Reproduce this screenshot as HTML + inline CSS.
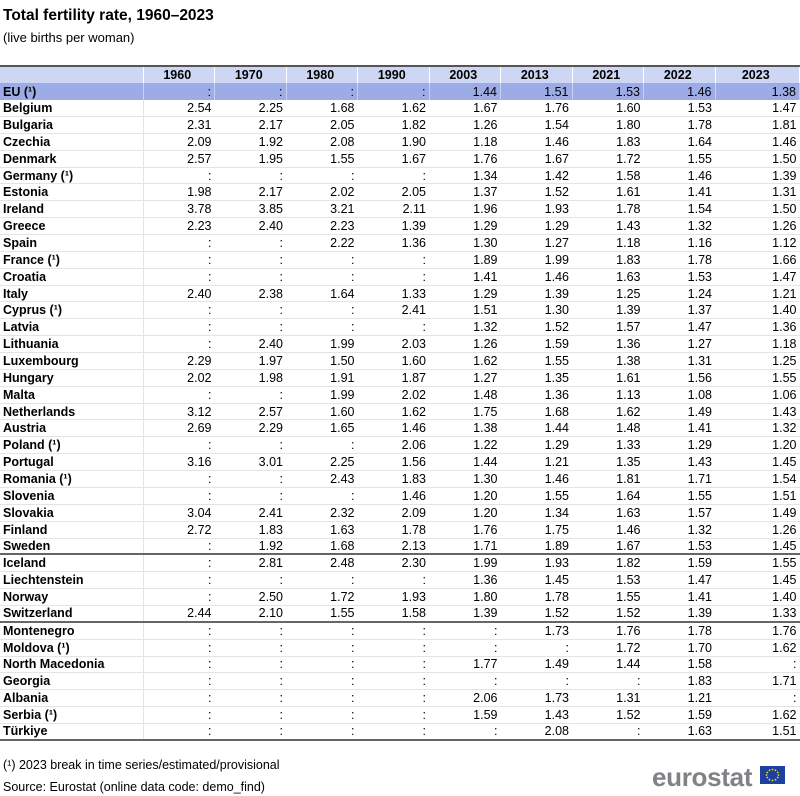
<!DOCTYPE html><html><head><meta charset="utf-8"><style>
body{margin:0;width:800px;height:796px;background:#fff;font-family:"Liberation Sans",Arial,sans-serif;position:relative;overflow:hidden;color:#000}
.t{position:absolute;left:3px;top:7px;font-size:15.5px;font-weight:bold}
.s{position:absolute;left:3px;top:30px;font-size:13px}
table{position:absolute;left:0;top:65px;width:800px;border-collapse:collapse;table-layout:fixed;font-size:12.5px;border-top:2px solid #555}
td{height:15.86px;padding:0 3px 0 0;text-align:right;border-bottom:1px solid #e4e4e4;white-space:nowrap;line-height:14px;overflow:hidden}
td:first-child{text-align:left;font-weight:bold;padding-left:3px;border-right:1px solid #e4e4e4}
tr.h td{background:#cdd7f3;font-weight:bold;text-align:center;border-right:1px solid #fff;border-bottom:none;height:16.3px}
tr.eu td{background:#9dace6;border-right:1px solid #c8d0f0;border-bottom:none;height:16.86px}
tr.b td{border-bottom:2px solid #666;height:14.86px}
.f{position:absolute;left:3px;font-size:12.5px}
.logo{position:absolute;left:652px;top:762px;font-size:26px;color:#808285;font-weight:bold;letter-spacing:-0.3px}
.flag{position:absolute;left:760px;top:766px;width:25px;height:18px;background:#1d3f9f}
</style></head><body>
<div class="t">Total fertility rate, 1960–2023</div>
<div class="s">(live births per woman)</div>
<table>
<colgroup><col style="width:143px"><col style="width:71.5px"><col style="width:71.5px"><col style="width:71.5px"><col style="width:71.5px"><col style="width:71.5px"><col style="width:71.5px"><col style="width:71.5px"><col style="width:71.5px"><col></colgroup>
<tr class="h"><td></td><td>1960</td><td>1970</td><td>1980</td><td>1990</td><td>2003</td><td>2013</td><td>2021</td><td>2022</td><td>2023</td></tr>
<tr class="eu"><td>EU (¹)</td><td>:</td><td>:</td><td>:</td><td>:</td><td>1.44</td><td>1.51</td><td>1.53</td><td>1.46</td><td>1.38</td></tr>
<tr><td>Belgium</td><td>2.54</td><td>2.25</td><td>1.68</td><td>1.62</td><td>1.67</td><td>1.76</td><td>1.60</td><td>1.53</td><td>1.47</td></tr>
<tr><td>Bulgaria</td><td>2.31</td><td>2.17</td><td>2.05</td><td>1.82</td><td>1.26</td><td>1.54</td><td>1.80</td><td>1.78</td><td>1.81</td></tr>
<tr><td>Czechia</td><td>2.09</td><td>1.92</td><td>2.08</td><td>1.90</td><td>1.18</td><td>1.46</td><td>1.83</td><td>1.64</td><td>1.46</td></tr>
<tr><td>Denmark</td><td>2.57</td><td>1.95</td><td>1.55</td><td>1.67</td><td>1.76</td><td>1.67</td><td>1.72</td><td>1.55</td><td>1.50</td></tr>
<tr><td>Germany (¹)</td><td>:</td><td>:</td><td>:</td><td>:</td><td>1.34</td><td>1.42</td><td>1.58</td><td>1.46</td><td>1.39</td></tr>
<tr><td>Estonia</td><td>1.98</td><td>2.17</td><td>2.02</td><td>2.05</td><td>1.37</td><td>1.52</td><td>1.61</td><td>1.41</td><td>1.31</td></tr>
<tr><td>Ireland</td><td>3.78</td><td>3.85</td><td>3.21</td><td>2.11</td><td>1.96</td><td>1.93</td><td>1.78</td><td>1.54</td><td>1.50</td></tr>
<tr><td>Greece</td><td>2.23</td><td>2.40</td><td>2.23</td><td>1.39</td><td>1.29</td><td>1.29</td><td>1.43</td><td>1.32</td><td>1.26</td></tr>
<tr><td>Spain</td><td>:</td><td>:</td><td>2.22</td><td>1.36</td><td>1.30</td><td>1.27</td><td>1.18</td><td>1.16</td><td>1.12</td></tr>
<tr><td>France (¹)</td><td>:</td><td>:</td><td>:</td><td>:</td><td>1.89</td><td>1.99</td><td>1.83</td><td>1.78</td><td>1.66</td></tr>
<tr><td>Croatia</td><td>:</td><td>:</td><td>:</td><td>:</td><td>1.41</td><td>1.46</td><td>1.63</td><td>1.53</td><td>1.47</td></tr>
<tr><td>Italy</td><td>2.40</td><td>2.38</td><td>1.64</td><td>1.33</td><td>1.29</td><td>1.39</td><td>1.25</td><td>1.24</td><td>1.21</td></tr>
<tr><td>Cyprus (¹)</td><td>:</td><td>:</td><td>:</td><td>2.41</td><td>1.51</td><td>1.30</td><td>1.39</td><td>1.37</td><td>1.40</td></tr>
<tr><td>Latvia</td><td>:</td><td>:</td><td>:</td><td>:</td><td>1.32</td><td>1.52</td><td>1.57</td><td>1.47</td><td>1.36</td></tr>
<tr><td>Lithuania</td><td>:</td><td>2.40</td><td>1.99</td><td>2.03</td><td>1.26</td><td>1.59</td><td>1.36</td><td>1.27</td><td>1.18</td></tr>
<tr><td>Luxembourg</td><td>2.29</td><td>1.97</td><td>1.50</td><td>1.60</td><td>1.62</td><td>1.55</td><td>1.38</td><td>1.31</td><td>1.25</td></tr>
<tr><td>Hungary</td><td>2.02</td><td>1.98</td><td>1.91</td><td>1.87</td><td>1.27</td><td>1.35</td><td>1.61</td><td>1.56</td><td>1.55</td></tr>
<tr><td>Malta</td><td>:</td><td>:</td><td>1.99</td><td>2.02</td><td>1.48</td><td>1.36</td><td>1.13</td><td>1.08</td><td>1.06</td></tr>
<tr><td>Netherlands</td><td>3.12</td><td>2.57</td><td>1.60</td><td>1.62</td><td>1.75</td><td>1.68</td><td>1.62</td><td>1.49</td><td>1.43</td></tr>
<tr><td>Austria</td><td>2.69</td><td>2.29</td><td>1.65</td><td>1.46</td><td>1.38</td><td>1.44</td><td>1.48</td><td>1.41</td><td>1.32</td></tr>
<tr><td>Poland (¹)</td><td>:</td><td>:</td><td>:</td><td>2.06</td><td>1.22</td><td>1.29</td><td>1.33</td><td>1.29</td><td>1.20</td></tr>
<tr><td>Portugal</td><td>3.16</td><td>3.01</td><td>2.25</td><td>1.56</td><td>1.44</td><td>1.21</td><td>1.35</td><td>1.43</td><td>1.45</td></tr>
<tr><td>Romania (¹)</td><td>:</td><td>:</td><td>2.43</td><td>1.83</td><td>1.30</td><td>1.46</td><td>1.81</td><td>1.71</td><td>1.54</td></tr>
<tr><td>Slovenia</td><td>:</td><td>:</td><td>:</td><td>1.46</td><td>1.20</td><td>1.55</td><td>1.64</td><td>1.55</td><td>1.51</td></tr>
<tr><td>Slovakia</td><td>3.04</td><td>2.41</td><td>2.32</td><td>2.09</td><td>1.20</td><td>1.34</td><td>1.63</td><td>1.57</td><td>1.49</td></tr>
<tr><td>Finland</td><td>2.72</td><td>1.83</td><td>1.63</td><td>1.78</td><td>1.76</td><td>1.75</td><td>1.46</td><td>1.32</td><td>1.26</td></tr>
<tr class="b"><td>Sweden</td><td>:</td><td>1.92</td><td>1.68</td><td>2.13</td><td>1.71</td><td>1.89</td><td>1.67</td><td>1.53</td><td>1.45</td></tr>
<tr><td>Iceland</td><td>:</td><td>2.81</td><td>2.48</td><td>2.30</td><td>1.99</td><td>1.93</td><td>1.82</td><td>1.59</td><td>1.55</td></tr>
<tr><td>Liechtenstein</td><td>:</td><td>:</td><td>:</td><td>:</td><td>1.36</td><td>1.45</td><td>1.53</td><td>1.47</td><td>1.45</td></tr>
<tr><td>Norway</td><td>:</td><td>2.50</td><td>1.72</td><td>1.93</td><td>1.80</td><td>1.78</td><td>1.55</td><td>1.41</td><td>1.40</td></tr>
<tr class="b"><td>Switzerland</td><td>2.44</td><td>2.10</td><td>1.55</td><td>1.58</td><td>1.39</td><td>1.52</td><td>1.52</td><td>1.39</td><td>1.33</td></tr>
<tr><td>Montenegro</td><td>:</td><td>:</td><td>:</td><td>:</td><td>:</td><td>1.73</td><td>1.76</td><td>1.78</td><td>1.76</td></tr>
<tr><td>Moldova (¹)</td><td>:</td><td>:</td><td>:</td><td>:</td><td>:</td><td>:</td><td>1.72</td><td>1.70</td><td>1.62</td></tr>
<tr><td>North Macedonia</td><td>:</td><td>:</td><td>:</td><td>:</td><td>1.77</td><td>1.49</td><td>1.44</td><td>1.58</td><td>:</td></tr>
<tr><td>Georgia</td><td>:</td><td>:</td><td>:</td><td>:</td><td>:</td><td>:</td><td>:</td><td>1.83</td><td>1.71</td></tr>
<tr><td>Albania</td><td>:</td><td>:</td><td>:</td><td>:</td><td>2.06</td><td>1.73</td><td>1.31</td><td>1.21</td><td>:</td></tr>
<tr><td>Serbia (¹)</td><td>:</td><td>:</td><td>:</td><td>:</td><td>1.59</td><td>1.43</td><td>1.52</td><td>1.59</td><td>1.62</td></tr>
<tr class="b"><td>Türkiye</td><td>:</td><td>:</td><td>:</td><td>:</td><td>:</td><td>2.08</td><td>:</td><td>1.63</td><td>1.51</td></tr>
</table>
<div class="f" style="top:758px">(¹) 2023 break in time series/estimated/provisional</div>
<div class="f" style="top:780px">Source: Eurostat (online data code: demo_find)</div>
<div class="logo">eurostat</div>
<div class="flag"><svg width="25" height="18"><g fill="#ffd700"><circle cx="12.5" cy="3.5" r="0.9"/><circle cx="15.5" cy="4.3" r="0.9"/><circle cx="17.7" cy="6.5" r="0.9"/><circle cx="18.5" cy="9" r="0.9"/><circle cx="17.7" cy="11.5" r="0.9"/><circle cx="15.5" cy="13.7" r="0.9"/><circle cx="12.5" cy="14.5" r="0.9"/><circle cx="9.5" cy="13.7" r="0.9"/><circle cx="7.3" cy="11.5" r="0.9"/><circle cx="6.5" cy="9" r="0.9"/><circle cx="7.3" cy="6.5" r="0.9"/><circle cx="9.5" cy="4.3" r="0.9"/></g></svg></div>
</body></html>
